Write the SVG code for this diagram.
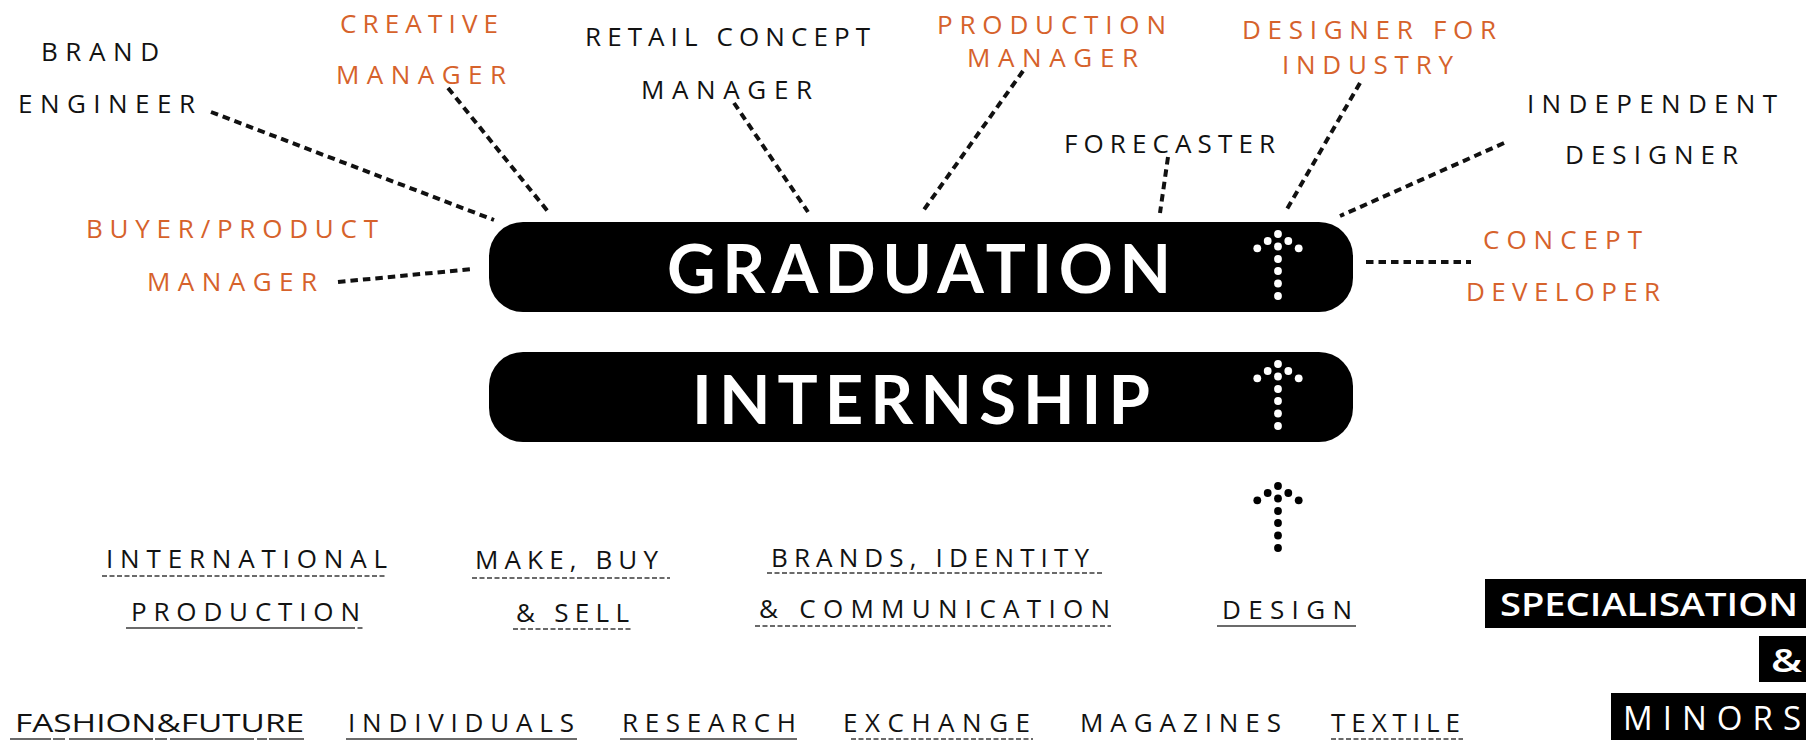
<svg xmlns="http://www.w3.org/2000/svg" xmlns:xlink="http://www.w3.org/1999/xlink" width="1806" height="740" viewBox="0 0 1806 740">
  <style>
    text { font-family: "Open Sans", Lato, "Liberation Sans", sans-serif; }
    .lbl { font-size: 26px; }
    .ink { fill: #121212; }
    .orange { fill: #D6622B; }
    .stage { fill: #000; }
    .stage-text { font-family: Lato, "Open Sans", sans-serif; font-size: 67px; font-weight: 700; fill: #fff; }
    .track { font-size: 26px; fill: #121212; }
    .tag { fill: #000; }
    .tag-text { font-size: 33px; font-weight: 600; fill: #fff; }
    .tag-text.spaced { font-weight: 400; }
    .conn { fill: none; stroke: #111; stroke-width: 4; stroke-dasharray: 7.5 5; }
    .ul { stroke: #3a3a3a; stroke-width: 1.6; fill: none; }
    .ul-dash { stroke: #3a3a3a; stroke-width: 1.6; stroke-dasharray: 5 2.5; fill: none; }
  </style>
  <defs>
    <!-- dotted upward arrow, origin at the top dot -->
    <g id="dot-arrow">
      <circle cx="0" cy="0" r="3.9"/>
      <circle cx="-10.3" cy="7" r="3.9"/>
      <circle cx="10.3" cy="7" r="3.9"/>
      <circle cx="0" cy="12.5" r="3.9"/>
      <circle cx="-20.7" cy="14.3" r="3.9"/>
      <circle cx="20.7" cy="14.3" r="3.9"/>
      <circle cx="0" cy="25" r="3.9"/>
      <circle cx="0" cy="37" r="3.9"/>
      <circle cx="0" cy="49.5" r="3.9"/>
      <circle cx="0" cy="62" r="3.9"/>
    </g>
  </defs>
  <rect width="1806" height="740" fill="#fff"/>

  <!-- dotted connectors from careers to graduation -->
  <g id="connectors">
    <line class="conn" x1="211" y1="112" x2="494" y2="220"/>
    <line class="conn" x1="448" y1="88" x2="550" y2="214"/>
    <line class="conn" x1="734" y1="103" x2="808" y2="212"/>
    <line class="conn" x1="1023" y1="71" x2="923" y2="211"/>
    <line class="conn" x1="1168" y1="157" x2="1160" y2="213"/>
    <line class="conn" x1="1360" y1="83" x2="1287" y2="209"/>
    <line class="conn" x1="1504" y1="143" x2="1340" y2="216"/>
    <line class="conn" x1="1366" y1="262" x2="1471" y2="262"/>
    <line class="conn" x1="338" y1="282" x2="473" y2="269"/>
  </g>

  <!-- career outcomes -->
  <g id="brand-engineer" class="lbl ink">
    <text x="41" y="61" textLength="118" lengthAdjust="spacing">BRAND</text>
    <text x="18" y="113" textLength="177" lengthAdjust="spacing">ENGINEER</text>
  </g>
  <g id="creative-manager" class="lbl orange">
    <text x="340" y="33" textLength="158" lengthAdjust="spacing">CREATIVE</text>
    <text x="336" y="84" textLength="170" lengthAdjust="spacing">MANAGER</text>
  </g>
  <g id="retail-concept-manager" class="lbl ink">
    <text x="585" y="46" textLength="285" lengthAdjust="spacing">RETAIL CONCEPT</text>
    <text x="641" y="99" textLength="171" lengthAdjust="spacing">MANAGER</text>
  </g>
  <g id="production-manager" class="lbl orange">
    <text x="937" y="34" textLength="229" lengthAdjust="spacing">PRODUCTION</text>
    <text x="967" y="67" textLength="171" lengthAdjust="spacing">MANAGER</text>
  </g>
  <g id="forecaster" class="lbl ink">
    <text x="1064" y="153" textLength="211" lengthAdjust="spacing">FORECASTER</text>
  </g>
  <g id="designer-for-industry" class="lbl orange">
    <text x="1242" y="39" textLength="254" lengthAdjust="spacing">DESIGNER FOR</text>
    <text x="1282" y="74" textLength="171" lengthAdjust="spacing">INDUSTRY</text>
  </g>
  <g id="independent-designer" class="lbl ink">
    <text x="1527" y="113" textLength="250" lengthAdjust="spacing">INDEPENDENT</text>
    <text x="1565" y="164" textLength="173" lengthAdjust="spacing">DESIGNER</text>
  </g>
  <g id="concept-developer" class="lbl orange">
    <text x="1483" y="249" textLength="159" lengthAdjust="spacing">CONCEPT</text>
    <text x="1466" y="301" textLength="194" lengthAdjust="spacing">DEVELOPER</text>
  </g>
  <g id="buyer-product-manager" class="lbl orange">
    <text x="86" y="238" textLength="292" lengthAdjust="spacing">BUYER/PRODUCT</text>
    <text x="147" y="291" textLength="170" lengthAdjust="spacing">MANAGER</text>
  </g>

  <!-- programme stages -->
  <g id="graduation">
    <rect class="stage" x="489" y="222" width="864" height="90" rx="34"/>
    <text class="stage-text" x="667" y="293" textLength="504" lengthAdjust="spacing">GRADUATION</text>
    <use xlink:href="#dot-arrow" href="#dot-arrow" x="1278" y="234" fill="#fff"/>
  </g>
  <g id="internship">
    <rect class="stage" x="489" y="352" width="864" height="90" rx="34"/>
    <text class="stage-text" x="692" y="424" textLength="458" lengthAdjust="spacing">INTERNSHIP</text>
    <use xlink:href="#dot-arrow" href="#dot-arrow" x="1278" y="364" fill="#fff"/>
  </g>
  <g id="step-arrow">
    <use xlink:href="#dot-arrow" href="#dot-arrow" x="1278" y="486" fill="#000"/>
  </g>

  <!-- specialisations -->
  <g id="international-production">
    <text class="track" x="106" y="568" textLength="281" lengthAdjust="spacing">INTERNATIONAL</text>
    <line class="ul-dash" x1="102" y1="576" x2="387" y2="576"/>
    <text class="track" x="131" y="621" textLength="229" lengthAdjust="spacing">PRODUCTION</text>
    <line class="ul" x1="126" y1="628" x2="350" y2="628"/>
    <line class="ul-dash" x1="350" y1="628" x2="364" y2="628"/>
  </g>
  <g id="make-buy-sell">
    <text class="track" x="475" y="569" textLength="183" lengthAdjust="spacing">MAKE, BUY</text>
    <line class="ul-dash" x1="472" y1="578" x2="670" y2="578"/>
    <text class="track" x="516" y="622" textLength="113" lengthAdjust="spacing">&amp; SELL</text>
    <line class="ul-dash" x1="513" y1="629" x2="631" y2="629"/>
  </g>
  <g id="brands-identity-communication">
    <text class="track" x="771" y="567" textLength="318" lengthAdjust="spacing">BRANDS, IDENTITY</text>
    <line class="ul-dash" x1="767" y1="573" x2="1102" y2="573"/>
    <text class="track" x="759" y="618" textLength="351" lengthAdjust="spacing">&amp; COMMUNICATION</text>
    <line class="ul-dash" x1="755" y1="626" x2="1111" y2="626"/>
  </g>
  <g id="design">
    <text class="track" x="1222" y="619" textLength="130" lengthAdjust="spacing">DESIGN</text>
    <line class="ul" x1="1217" y1="626" x2="1356" y2="626" stroke-width="2"/>
  </g>

  <!-- minors -->
  <g id="fashion-future">
    <text class="track" x="15" y="732" textLength="289" lengthAdjust="spacingAndGlyphs">FASHION&amp;FUTURE</text>
    <path class="ul" d="M10 739H51M53 739H65M69 739H153M155 739H167M170 739H254M257 739H267M269 739H304"/>
  </g>
  <g id="individuals">
    <text class="track" x="348" y="732" textLength="226" lengthAdjust="spacing">INDIVIDUALS</text>
    <line class="ul" x1="346" y1="739" x2="577" y2="739"/>
  </g>
  <g id="research">
    <text class="track" x="622" y="732" textLength="174" lengthAdjust="spacing">RESEARCH</text>
    <line class="ul" x1="620" y1="739" x2="797" y2="739"/>
  </g>
  <g id="exchange">
    <text class="track" x="843" y="732" textLength="187" lengthAdjust="spacing">EXCHANGE</text>
    <line class="ul-dash" x1="851" y1="739" x2="1033" y2="739"/>
  </g>
  <g id="magazines">
    <text class="track" x="1080" y="732" textLength="201" lengthAdjust="spacing">MAGAZINES</text>
  </g>
  <g id="textile">
    <text class="track" x="1331" y="732" textLength="129" lengthAdjust="spacing">TEXTILE</text>
    <line class="ul-dash" x1="1331" y1="739" x2="1463" y2="739"/>
  </g>

  <!-- legend tags -->
  <g id="tag-specialisation">
    <rect class="tag" x="1485" y="579" width="321" height="49"/>
    <text class="tag-text" x="1500" y="616" textLength="298" lengthAdjust="spacingAndGlyphs">SPECIALISATION</text>
  </g>
  <g id="tag-and">
    <rect class="tag" x="1759" y="636" width="47" height="46"/>
    <text class="tag-text" x="1771" y="672" textLength="31" lengthAdjust="spacingAndGlyphs">&amp;</text>
  </g>
  <g id="tag-minors">
    <rect class="tag" x="1611" y="693" width="195" height="47"/>
    <text class="tag-text spaced" x="1623" y="730" textLength="178" lengthAdjust="spacing">MINORS</text>
  </g>
</svg>
